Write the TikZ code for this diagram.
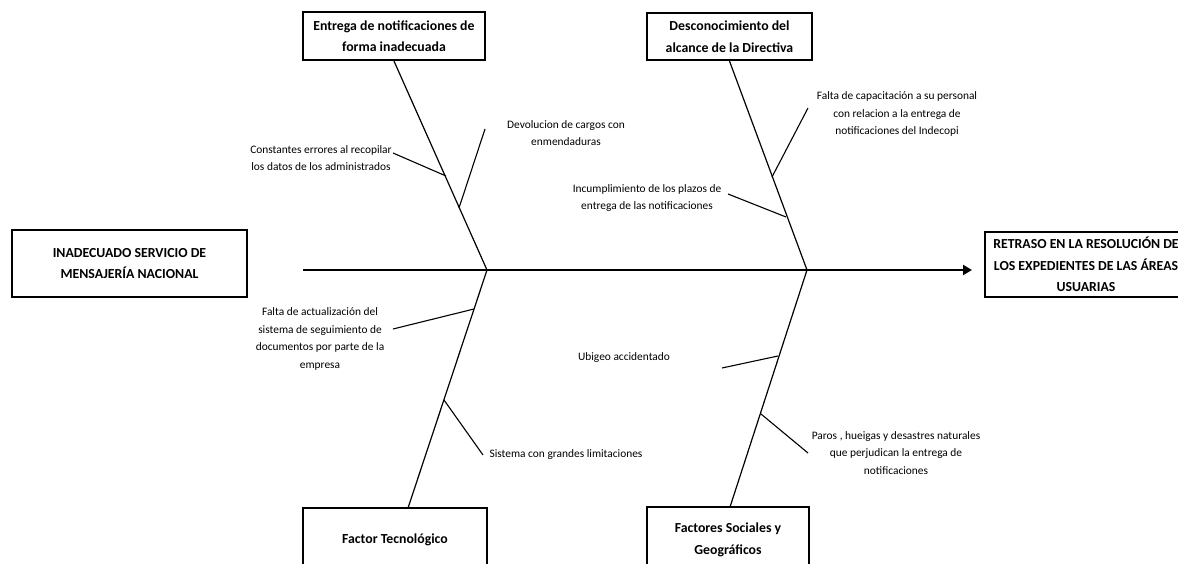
\documentclass[tikz,border=0pt]{standalone}
\usepackage{fontspec}
\setmainfont{Carlito}
\usetikzlibrary{arrows.meta}
\begin{document}
\begin{tikzpicture}[x=1pt,y=-1pt,
  box/.style={draw,line width=2.2pt,align=center,inner sep=0pt,
    font=\bfseries\fontsize{13.8}{21.5}\selectfont},
  lbl/.style={align=center,inner sep=0pt,font=\fontsize{11.4}{17.5}\selectfont},
  bone/.style={line width=1.2pt},
  sub/.style={line width=1.1pt},
  spine/.style={line width=2.8pt,-{Triangle[length=9pt,width=10pt]}}]
\clip (0,0) rectangle (1178,564);
\fill[white] (0,0) rectangle (1178,564);
% main boxes
\node[box,minimum width=235pt,minimum height=67pt] (lbox) at (129.5,263.5)
  {INADECUADO SERVICIO DE\\MENSAJERÍA NACIONAL};
\node[box,minimum width=202pt,minimum height=65pt] (rbox) at (1086,264.5)
  {RETRASO EN LA RESOLUCIÓN DE\\LOS EXPEDIENTES DE LAS ÁREAS\\USUARIAS};
% category boxes
\node[box,minimum width=182pt,minimum height=48pt] (tl) at (394,36)
  {Entrega de notificaciones de\\forma inadecuada};
\node[box,minimum width=165pt,minimum height=47pt] (tr) at (729.5,36.5)
  {Desconocimiento del\\alcance de la Directiva};
\node[box,minimum width=184pt,minimum height=64pt] (bl) at (395,540)
  {Factor Tecnológico};
\node[box,minimum width=162pt,minimum height=66pt] (br) at (728,540)
  {Factores Sociales y\\Geográficos};
% spine
\coordinate (s0) at (303,270);
\coordinate (s1) at (972,270);
\coordinate (j1) at (487,270);
\coordinate (j2) at (807,270);
\draw[spine] (s0) -- (s1);
% bones
\coordinate (blb) at (408,508);
\coordinate (brb) at (730,507);
\draw[bone] (tl.south) -- (j1);
\draw[bone] (tr.south) -- (j2);
\draw[bone] (j1) -- (blb);
\draw[bone] (j2) -- (brb);
% labels
\node[lbl] (l1) at (321,158) {Constantes errores al recopilar\\los datos de los administrados};
\node[lbl] (l2) at (566,133) {Devolucion de cargos con\\enmendaduras};
\node[lbl] (l3) at (897,114) {Falta de capacitación a su personal\\con relacion a la entrega de\\notificaciones del Indecopi};
\node[lbl] (l4) at (647,198) {Incumplimiento de los plazos de\\entrega de las notificaciones};
\node[lbl] (l5) at (320,339) {Falta de actualización del\\sistema de seguimiento de\\documentos por parte de la\\empresa};
\node[lbl] (l6) at (624,358) {Ubigeo accidentado};
\node[lbl] (l7) at (566,455) {Sistema con grandes limitaciones};
\node[lbl] (l8) at (896,453) {Paros , hueigas y desastres naturales\\que perjudican la entrega de\\notificaciones};
% sub-bones
\coordinate (a1) at (393,153); \coordinate (b1) at (446,176);
\coordinate (a2) at (485,129); \coordinate (b2) at (459,208);
\coordinate (a3) at (808,108); \coordinate (b3) at (772,177);
\coordinate (a4) at (728,194); \coordinate (b4) at (786,217);
\coordinate (a5) at (393,329); \coordinate (b5) at (474,309);
\coordinate (a6) at (722,368); \coordinate (b6) at (778,356);
\coordinate (a7) at (483,455); \coordinate (b7) at (444,400);
\coordinate (a8) at (808,453); \coordinate (b8) at (761,414);
\foreach \i in {1,...,8} {\draw[sub] (a\i) -- (b\i);}
\end{tikzpicture}
\end{document}
